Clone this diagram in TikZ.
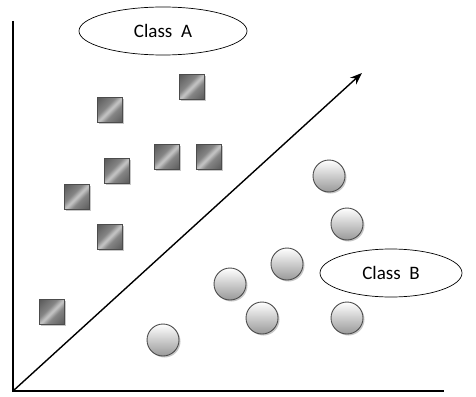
\documentclass[tikz,border=0pt]{standalone}
\usepackage{fontspec}
\setmainfont{Carlito}
\usetikzlibrary{shadows,arrows.meta,shapes.geometric}
\pgfdeclareverticalshading{sqshade}{100bp}{
  color(0bp)=(black!75); color(40bp)=(black!48); color(50bp)=(black!22);
  color(60bp)=(black!48); color(100bp)=(black!75)}
\tikzset{
  sq/.style={draw=black!70, line width=0.9pt, minimum size=25pt, inner sep=0pt,
    shading=sqshade, shading angle=45,
    drop shadow={shadow xshift=1.5pt, shadow yshift=-1.5pt, fill=black!40, opacity=0.55}},
  circ/.style={circle, draw=black!70, line width=0.9pt, minimum size=32pt, inner sep=0pt,
    top color=white, bottom color=black!40,
    drop shadow={shadow xshift=1.5pt, shadow yshift=-1.5pt, fill=black!40, opacity=0.55}},
  lab/.style={ellipse, draw=black, line width=0.7pt, font=\fontsize{19}{22}\selectfont},
  ax/.style={line width=2.6pt},
}
\begin{document}
\begin{tikzpicture}[x=1pt,y=-1pt]
\useasboundingbox (0,0) rectangle (476,396);
% axes
\coordinate (o) at (13,391);
\coordinate (top) at (13,21);
\coordinate (right) at (444,391);
\draw[ax] (top) -- (o) -- (right);
\coordinate (tip) at (362,73);
\draw[line width=1.4pt, -{Stealth[length=12pt,width=9pt]}] (o) -- (tip);
% labels
\node[lab, minimum width=168pt, minimum height=48pt] (A) at (163,31) {Class~~A};
\node[lab, minimum width=142pt, minimum height=48pt] (B) at (391,273) {Class~~B};
% squares
\node[sq] (s1) at (110,110) {};
\node[sq] (s2) at (192,87) {};
\node[sq] (s3) at (167,157) {};
\node[sq] (s4) at (209,157) {};
\node[sq] (s5) at (117,171) {};
\node[sq] (s6) at (77,197) {};
\node[sq] (s7) at (110,237) {};
\node[sq] (s8) at (52,312) {};
% circles
\node[circ] (c1) at (329,176) {};
\node[circ] (c2) at (347,224) {};
\node[circ] (c3) at (287,264) {};
\node[circ] (c4) at (230,284) {};
\node[circ] (c5) at (262,318) {};
\node[circ] (c6) at (347,318) {};
\node[circ] (c7) at (163,340) {};
\end{tikzpicture}
\end{document}
